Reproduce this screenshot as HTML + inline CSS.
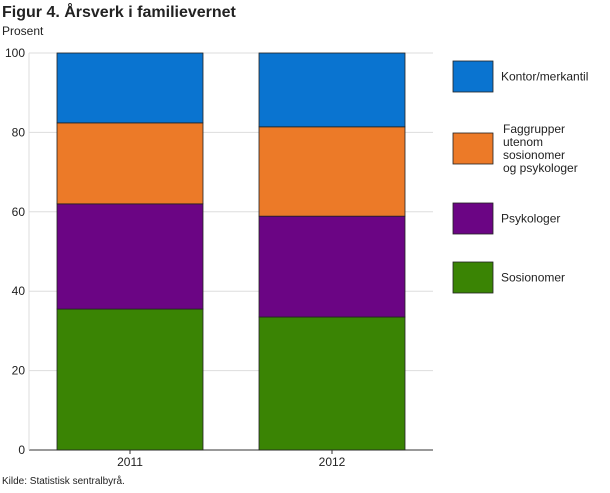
<!DOCTYPE html>
<html><head><meta charset="utf-8"><style>
body{margin:0;background:#fff;font-family:"Liberation Sans",sans-serif;}
svg text{font-family:"Liberation Sans",sans-serif;}
</style></head><body>
<svg width="610" height="488">
<text x="2" y="17" font-size="16" font-weight="bold" fill="#222">Figur 4. Årsverk i familievernet</text>
<text x="2" y="35" font-size="12" fill="#222">Prosent</text>
<g id="grid"></g><g id="bars"></g><g id="legend"></g>
<text x="2" y="484" font-size="10" fill="#222">Kilde: Statistisk sentralbyrå.</text>
</svg>
<script>
const categories=["2011","2012"];
const seriesNames=["Sosionomer","Psykologer","Faggrupper utenom sosionomer og psykologer","Kontor/merkantil"];
const sosionomer=[35.5,33.5];
const psykologer=[26.5,25.4];
const faggrupper=[20.4,22.5];
const kontor=[17.6,18.6];
const yTicks=[0,20,40,60,80,100];
const colors=["#3a8404","#6b0584","#ec7a28","#0a74d0"];
const NS="http://www.w3.org/2000/svg";
const x0=29,x1=433,yTop=53,yBot=450;
const y=v=>yBot-(v/100)*(yBot-yTop);
function mk(t,a,p){const e=document.createElementNS(NS,t);for(const k in a)e.setAttribute(k,a[k]);p.appendChild(e);return e;}
const grid=document.getElementById('grid');
yTicks.forEach(t=>{
 const l=mk('line',{x1:x0,x2:x1,y1:y(t),y2:y(t),stroke:t===0?'#333':'#ddd','stroke-width':1},grid);
 
 
 const tx=mk('text',{x:25,y:y(t)+4,'font-size':12,'text-anchor':'end',fill:'#222'},grid);
 tx.textContent=t;
 
 
});
const ax=mk('line',{x1:x0,x2:x0,y1:yTop,y2:yBot,stroke:'#ddd'},grid);


const series=[sosionomer,psykologer,faggrupper,kontor];
const bars=document.getElementById('bars');
const step=(x1-x0)/categories.length,bw=146;
categories.forEach((c,i)=>{
 const cx=x0+step*(i+0.5);let acc=0;
 series.forEach((s,j)=>{
  const r=mk('rect',{x:cx-bw/2,y:y(acc+s[i]),width:bw,height:y(acc)-y(acc+s[i]),fill:colors[j],stroke:'#222','stroke-width':0.8},bars);
  
  
  acc+=s[i];
 });
 const tl=mk('line',{x1:cx,x2:cx,y1:yBot,y2:yBot+4,stroke:'#333'},bars);
 
 
 const t=mk('text',{x:cx,y:466,'font-size':12,'text-anchor':'middle',fill:'#222'},bars);
 t.textContent=c;
 
 
});
const leg=document.getElementById('legend');
const legY=[262,203,133,61];
const legLines=[["Sosionomer"],["Psykologer"],["Faggrupper","utenom","sosionomer","og psykologer"],["Kontor/merkantil"]];
seriesNames.forEach((n,j)=>{
 const g=mk('g',{},leg);
 
 
 mk('rect',{x:453,y:legY[j],width:40,height:31,fill:colors[j],stroke:'#222','stroke-width':0.8},g);
 const L=legLines[j];const cy=legY[j]+15.5;
 L.forEach((s,k)=>{const t=mk('text',{x:L.length>1?503:501,y:cy+4+(k-(L.length-1)/2)*13,'font-size':12,fill:'#222'},g);t.textContent=s;});
});
</script>
</body></html>
